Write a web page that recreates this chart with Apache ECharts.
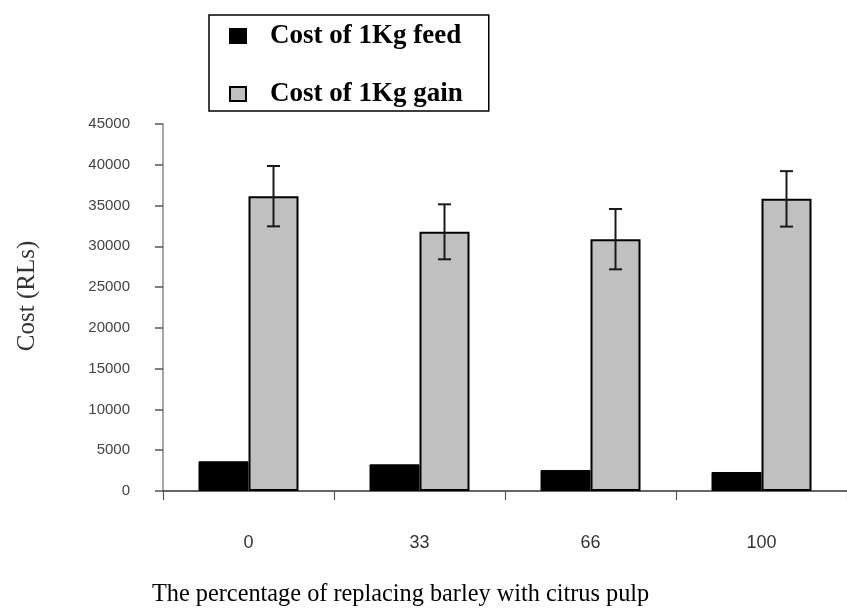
<!DOCTYPE html>
<html><head><meta charset="utf-8">
<script src="https://cdn.jsdelivr.net/npm/echarts@6/dist/echarts.min.js"></script>
<style>html,body{margin:0;padding:0;background:#fff}#c{width:847px;height:612px}</style>
</head><body><div id="c"></div>
<script>
const categories = ['0', '33', '66', '100'];
const costFeed = [3640, 3270, 2570, 2330];
const costGain = [36150, 31780, 30880, 35820];
const gainErr = [3700, 3370, 3700, 3400];
const yTicks = { min: 0, max: 45000, interval: 5000 };

const chart = echarts.init(document.getElementById('c'));
const BAR_W = 50;
chart.setOption({
  animation: false,
  backgroundColor: '#fff',
  grid: { left: 163, top: 124, width: 688, bottom: 121, containLabel: false },
  legend: {
    orient: 'vertical', left: 209, top: 15,
    padding: [6, 26, 2, 20],
    borderColor: '#000', borderWidth: 1.5,
    itemWidth: 16, itemHeight: 14, itemGap: 28, icon: 'rect',
    textStyle: { fontFamily: 'Liberation Serif', fontWeight: 'bold', fontSize: 27, lineHeight: 30, color: '#000', padding: [0, 0, 0, 19] },
    data: ['Cost of 1Kg feed', 'Cost of 1Kg gain']
  },
  xAxis: {
    type: 'category', data: categories,
    axisLine: { lineStyle: { color: '#333', width: 1.5 } },
    axisTick: { show: true, length: 9, interval: 0, lineStyle: { color: '#555', width: 1.2 } },
    axisLabel: { margin: 43, fontFamily: 'Liberation Sans', fontSize: 18, color: '#333' }
  },
  yAxis: {
    type: 'value', min: yTicks.min, max: yTicks.max, interval: yTicks.interval,
    splitLine: { show: false },
    axisLine: { show: true, lineStyle: { color: '#8a8a8a', width: 1.5 } },
    axisTick: { show: true, length: 8, lineStyle: { color: '#555', width: 1.5 } },
    axisLabel: { margin: 33, fontFamily: 'Liberation Sans', fontSize: 15, color: '#444', formatter: v => String(v) }
  },
  graphic: [
    { type: 'text', left: 152, top: 583, style: { text: 'The percentage of replacing barley with citrus pulp', font: '24.3px "Liberation Serif"', fill: '#000' } },
    { type: 'text', x: 27, y: 296, rotation: Math.PI / 2, style: { text: 'Cost (RLs)', font: '25px "Liberation Serif"', fill: '#333', align: 'center', verticalAlign: 'middle' } }
  ],
  series: [
    { name: 'Cost of 1Kg feed', type: 'bar', data: costFeed, barWidth: BAR_W, barGap: '0%',
      itemStyle: { color: '#000', borderColor: '#000', borderWidth: 1 } },
    { name: 'Cost of 1Kg gain', type: 'bar', data: costGain, barWidth: BAR_W, barGap: '0%',
      itemStyle: { color: '#c0c0c0', borderColor: '#000', borderWidth: 2 } },
    { name: 'err', type: 'custom', data: costGain.map((v, i) => [i, v - gainErr[i], v + gainErr[i]]),
      renderItem: function (params, api) {
        const lo = api.coord([api.value(0), api.value(1)]);
        const hi = api.coord([api.value(0), api.value(2)]);
        const x = lo[0] + BAR_W / 2;
        const cap = 6.5;
        const st = { stroke: '#1a1a1a', lineWidth: 2 };
        return { type: 'group', children: [
          { type: 'line', shape: { x1: x, y1: lo[1], x2: x, y2: hi[1] }, style: st },
          { type: 'line', shape: { x1: x - cap, y1: lo[1], x2: x + cap, y2: lo[1] }, style: st },
          { type: 'line', shape: { x1: x - cap, y1: hi[1], x2: x + cap, y2: hi[1] }, style: st }
        ] };
      }, z: 5 }
  ]
});
</script></body></html>
